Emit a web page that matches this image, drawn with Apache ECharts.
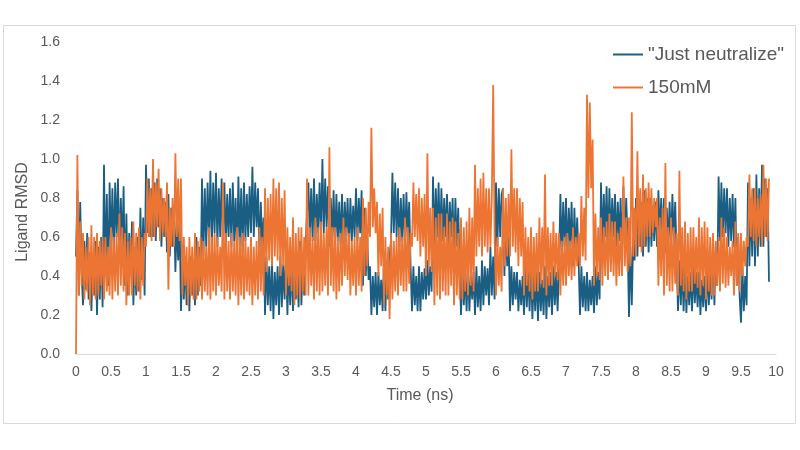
<!DOCTYPE html>
<html>
<head>
<meta charset="utf-8">
<script src="https://cdn.jsdelivr.net/npm/echarts@6/dist/echarts.min.js"></script>
<style>
  html, body { margin: 0; padding: 0; background: #fff; }
  #chart { width: 800px; height: 450px; }
</style>
</head>
<body>
<div id="chart"></div>
<script>
// one sample every 0.02 ns, values are RMSD x 100
const STEP = 0.02

const seriesNames = ['"Just neutralize"', '150mM']

// "Just neutralize", one row = 1 ns
const justNeutralize = [
  50,84,30,78,42, 25,58,33,62,28, 52,22,48,30,58, 20,55,28,60,24, 97,40,82,35,88, 55,85,50,88,60, 90,48,80,52,86, 35,72,30,62,40, 68,25,55,30,60, 32,75,38,70,30,
  97,62,90,60,85, 60,88,58,90,65, 85,55,80,60,78, 52,82,50,75,55, 75,42,68,48,70, 22,48,28,50,25, 45,22,50,30,42, 25,60,30,55,35, 90,50,85,55,88, 58,94,55,88,62,
  93,55,85,60,90, 58,88,55,82,60, 85,55,88,58,80, 50,91,55,85,52, 88,58,82,60,86, 62,96,60,88,65, 85,50,78,55,70, 20,50,25,45,22, 48,18,42,25,45, 20,50,24,46,28,
  52,20,45,25,48, 22,50,28,45,24, 58,25,50,30,55, 55,88,60,85,58, 90,58,82,62,88, 60,100,62,90,65, 86,55,80,58,84, 55,82,58,78,56, 82,55,78,60,80, 55,80,58,76,60,
  85,58,80,62,84, 35,75,40,60,38, 45,20,40,24,42, 20,42,25,38,22, 48,22,44,28,50, 58,93,62,88,60, 85,55,80,58,82, 55,83,60,78,45, 22,45,25,40,22, 45,22,42,28,44,
  28,48,30,45,32, 91,55,85,60,88, 55,85,58,80,60, 82,55,78,60,80, 50,80,55,75,45, 20,45,25,42,22, 45,22,40,28,42, 20,45,24,40,22, 48,25,45,30,44, 25,55,30,50,28,
  88,55,85,60,82, 85,40,70,45,60, 22,45,25,42,28, 42,22,38,25,40, 20,45,24,42,22, 45,18,40,22,42, 17,42,22,38,20, 45,18,40,24,42, 20,45,25,42,22, 45,82,50,78,55,
  80,50,75,55,78, 45,75,50,70,48, 20,45,24,40,22, 42,22,38,25,40, 21,45,25,42,28, 88,55,82,60,86, 55,85,58,80,60, 82,55,78,58,80, 52,86,55,80,58, 19,55,25,60,48,
  80,50,75,55,78, 50,84,55,80,52, 80,55,76,58,78, 55,84,60,80,58, 80,52,75,55,78, 55,82,58,78,50, 22,48,25,45,22, 45,21,40,25,42, 22,45,26,42,24, 42,20,38,24,40,
  22,45,25,42,28, 60,25,55,35,91, 58,88,60,85,62, 85,55,80,58,82, 55,80,35,60,30, 16,45,22,40,25, 88,45,80,50,85, 45,92,50,85,55, 97,55,90,60,85, 37
]

// 150mM, one row = 1 ns
const mM150 = [
  0,102,30,68,35, 62,28,55,32,60, 25,66,30,60,28, 62,30,58,35,60, 28,60,32,55,30, 65,28,60,32,62, 30,72,35,65,32, 62,25,58,30,60, 30,68,35,62,32, 65,28,60,35,62,
  55,90,60,85,58, 100,60,88,65,95, 58,85,62,80,60, 88,33,75,55,80, 55,103,60,90,58, 90,30,60,35,55, 25,60,30,55,28, 62,28,58,32,60, 28,58,32,55,30, 65,28,60,32,62,
  30,60,35,55,32, 88,28,62,32,58, 28,62,32,58,30, 65,25,60,30,62, 28,60,32,55,30, 60,25,55,30,58, 28,65,32,60,30, 85,42,80,48,82, 45,90,50,85,48, 88,40,80,45,84,
  30,65,35,60,32, 70,25,62,30,65, 28,65,32,60,30, 90,30,65,35,60, 28,70,32,65,30, 68,32,62,35,65, 30,106,35,65,32, 65,28,60,32,62, 35,70,40,65,38, 62,30,58,35,60,
  30,65,35,60,32, 80,40,75,45,78, 60,116,65,85,62, 78,40,72,45,75, 25,60,30,55,18, 62,28,58,32,60, 30,65,35,60,32, 70,32,65,36,62, 55,88,60,82,58, 85,50,80,55,82,
  40,103,45,75,42, 75,25,70,30,72, 28,72,32,65,30, 72,30,68,35,70, 25,68,30,62,28, 70,28,65,32,68, 30,75,35,70,32, 97,50,85,55,90, 50,93,55,85,52, 85,55,80,138,60,
  30,60,35,55,32, 85,45,80,50,82, 50,105,55,85,52, 85,45,80,50,78, 30,65,35,60,32, 65,28,60,32,62, 32,70,36,65,34, 92,30,65,35,62, 35,68,40,62,38, 62,30,58,35,60,
  35,62,40,58,38, 65,40,60,45,62, 45,81,50,75,48, 133,80,129,85,110, 35,72,40,65,38, 70,35,65,40,68, 38,72,42,68,40, 68,35,62,40,65, 40,91,45,70,42, 70,45,124,50,75,
  50,104,55,85,52, 92,55,85,60,88, 60,85,62,80,65, 80,35,70,40,75, 30,98,35,65,32, 70,32,65,36,62, 30,94,35,65,32, 68,28,62,32,65, 32,65,36,60,34, 70,30,65,35,68,
  28,65,32,60,30, 62,30,58,35,60, 32,70,36,65,34, 60,35,55,40,58, 30,68,35,62,32, 62,40,58,45,60, 55,92,60,85,58, 85,55,80,60,82, 55,97,60,90,58, 90
]

const yTicks = [0, 0.2, 0.4, 0.6, 0.8, 1.0, 1.2, 1.4, 1.6]

const colors = ['#1B5E83', '#EC7533']
const textColor = '#595959'
const fontFamily = 'Liberation Sans, Arial, sans-serif'

function toPoints(values) {
  return values.map((v, i) => [+(i * STEP).toFixed(2), v / 100])
}

const chart = echarts.init(document.getElementById('chart'))

chart.setOption({
  animation: false,
  backgroundColor: '#fff',
  textStyle: { fontFamily: fontFamily },
  graphic: [
    {
      type: 'rect',
      shape: { x: 3.5, y: 25.5, width: 792, height: 398 },
      style: { fill: 'none', stroke: '#D9D9D9', lineWidth: 1 },
      silent: true
    },
    {
      // y axis title, Excel puts it a bit lower than the plot centre
      type: 'text',
      x: 23,
      y: 212,
      rotation: Math.PI / 2,
      style: {
        text: 'Ligand RMSD',
        fill: textColor,
        font: '16px ' + fontFamily,
        textAlign: 'center',
        textVerticalAlign: 'middle'
      },
      silent: true
    }
  ],
  grid: { left: 76, right: 24, top: 42, bottom: 96 },
  legend: {
    orient: 'vertical',
    left: 608,
    top: 40,
    itemWidth: 30,
    itemHeight: 2,
    itemGap: 14,
    icon: 'rect',
    textStyle: { color: textColor, fontSize: 19, fontFamily: fontFamily },
    data: seriesNames
  },
  xAxis: {
    type: 'value',
    min: 0,
    max: 10,
    interval: 0.5,
    name: 'Time (ns)',
    nameLocation: 'middle',
    nameGap: 34,
    nameTextStyle: { color: textColor, fontSize: 16, padding: [0, 12, 0, 0] },
    axisLine: { show: true, lineStyle: { color: '#D9D9D9', width: 1 } },
    axisTick: { show: false },
    splitLine: { show: false },
    axisLabel: { color: textColor, fontSize: 14, margin: 11 }
  },
  yAxis: {
    type: 'value',
    min: yTicks[0],
    max: yTicks[yTicks.length - 1],
    interval: 0.2,
    axisLine: { show: false },
    axisTick: { show: false },
    splitLine: { show: false },
    axisLabel: {
      color: textColor,
      fontSize: 14,
      margin: 16,
      formatter: v => v.toFixed(1)
    }
  },
  series: [
    {
      name: seriesNames[0],
      type: 'line',
      data: toPoints(justNeutralize),
      showSymbol: false,
      symbol: 'none',
      sampling: null,
      lineStyle: { color: colors[0], width: 1.8 },
      itemStyle: { color: colors[0] }
    },
    {
      name: seriesNames[1],
      type: 'line',
      data: toPoints(mM150),
      showSymbol: false,
      symbol: 'none',
      sampling: null,
      lineStyle: { color: colors[1], width: 1.8 },
      itemStyle: { color: colors[1] }
    }
  ]
})
</script>
</body>
</html>
